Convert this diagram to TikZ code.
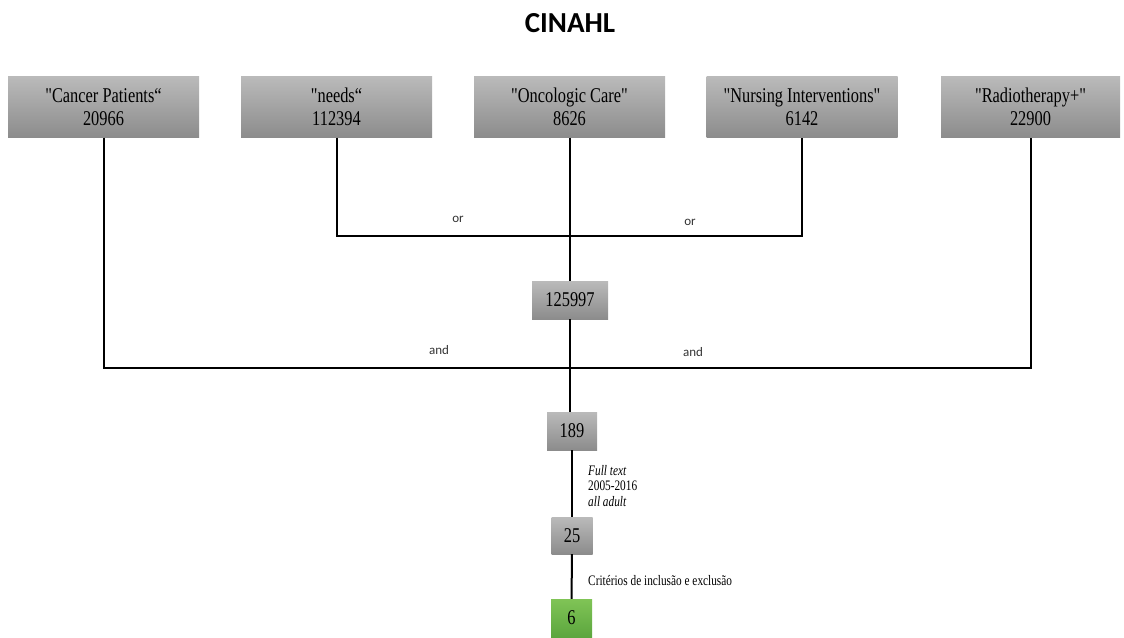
\documentclass[tikz,border=0pt]{standalone}
\usepackage{fontspec}
\setmainfont{Liberation Serif}[FakeStretch=0.78, Ligatures=TeXOff]
\newfontfamily\titlefont{Carlito}
\definecolor{boxtop}{RGB}{186,186,186}
\definecolor{boxbot}{RGB}{140,140,140}
\definecolor{greentop}{RGB}{128,196,86}
\definecolor{greenbot}{RGB}{92,166,62}
\begin{document}
\begin{tikzpicture}[x=1pt,y=-1pt]
        \tikzstyle{term}=[minimum width=191pt, minimum height=61pt, inner sep=0pt, align=center,
          top color=boxtop, bottom color=boxbot, font=\fontsize{21}{22.5}\selectfont]
        \tikzstyle{count}=[term, minimum width=0pt, minimum height=38pt, inner xsep=8pt]
        \tikzstyle{link}=[line width=2pt, black]
        \tikzstyle{oplabel}=[font=\titlefont\fontsize{13}{14}\selectfont, text=black!80]
        \tikzstyle{note}=[anchor=west, inner sep=0pt, align=left, font=\fontsize{14.5}{15.5}\selectfont]
        \useasboundingbox (0,0) rectangle (1124,637);
        \node[font=\titlefont\bfseries\fontsize{29}{30}\selectfont] (title) at (570,23) {CINAHL};
        % search terms
        \node[term] (cancer) at (103.5,107) {"Cancer Patients“\\20966};
        \node[term] (needs) at (336.5,107) {"needs“\\112394};
        \node[term] (onco) at (569.5,107) {"Oncologic Care"\\8626};
        \node[term] (nursing) at (802,107) {"Nursing Interventions"\\6142};
        \node[term, minimum width=179pt] (radio) at (1030.5,107) {"Radiotherapy+"\\22900};
        % results
        \node[count, minimum width=76pt] (orsum) at (570,300) {125997};
        \node[count, minimum width=50pt] (andsum) at (572,431) {189};
        \node[count, minimum width=41pt, minimum height=37pt] (filtered) at (572,535.5) {25};
        \node[count, minimum width=41pt, top color=greentop, bottom color=greenbot] (final) at (571.5,618) {6};
        % junctions
        \coordinate (orline) at (0,236);
        \coordinate (andline) at (0,368);
        \coordinate (orleft) at (needs.south |- orline);
        \coordinate (orright) at (nursing.south |- orline);
        \coordinate (andleft) at (cancer.south |- andline);
        \coordinate (andright) at (radio.south |- andline);
        \draw[link] (needs.south) -- (orleft) -- (orright) -- (nursing.south);
        \draw[link] (onco.south) -- (onco.south |- orsum.north);
        \draw[link] (cancer.south) -- (andleft) -- (andright) -- (radio.south);
        \draw[link] (orsum.south) -- (orsum.south |- andsum.north);
        \draw[link] (andsum) -- (filtered);
        \draw[link] (filtered) -- (final);
        % operators
        \node[oplabel] (or1) at (458,219) {or};
        \node[oplabel] (or2) at (690,222) {or};
        \node[oplabel] (and1) at (439,350) {and};
        \node[oplabel] (and2) at (693,352) {and};
        % filters
        \node[note] (filters) at (588,486) {\textit{Full text}\\2005-2016\\\textit{all adult}};
        \node[note] (criteria) at (588,581) {Critérios de inclusão e exclusão};
      \end{tikzpicture}
\end{document}
